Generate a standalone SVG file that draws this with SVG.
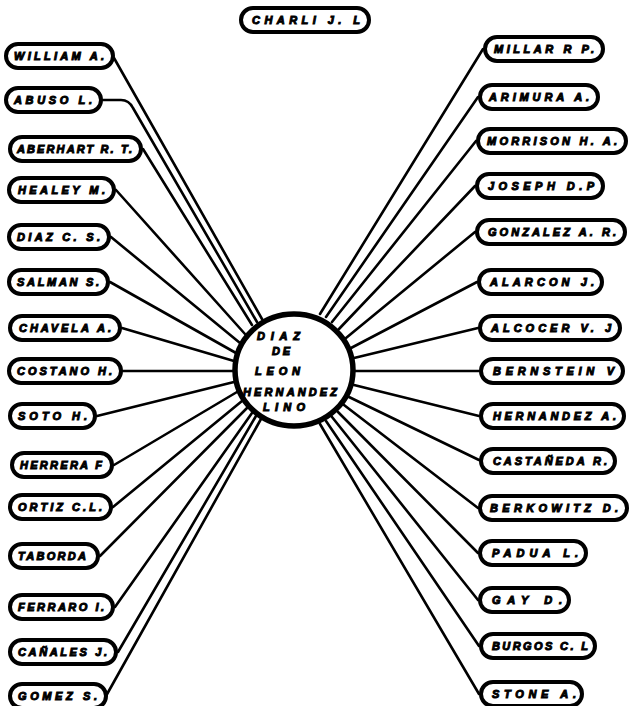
<svg xmlns="http://www.w3.org/2000/svg" width="630" height="706" viewBox="0 0 630 706">
<style>
.pill{fill:#fff;stroke:#000;stroke-width:4}
.lbl{font-family:"Liberation Sans",Arial,sans-serif;font-weight:bold;font-style:italic;font-size:11px;fill:#000;stroke:#000;stroke-width:1}
.conn path{fill:none;stroke:#000;stroke-width:2.6;stroke-linecap:round;stroke-linejoin:round}
.hub{fill:#fff;stroke:#000;stroke-width:5.5}
</style>
<rect width="630" height="706" fill="#fff"/>
<g id="connectors" class="conn">
<path d="M114,58 L262,319"/>
<path d="M103,100 H121 Q129,100 133,108 L257,322"/>
<path d="M143,149 L252,325"/>
<path d="M116,190 L245,334"/>
<path d="M111,237 L240,343"/>
<path d="M110,282 L236,353"/>
<path d="M122,328 L234,361"/>
<path d="M123,371 L233,371"/>
<path d="M97,416 L234,382"/>
<path d="M114,465 L237,392"/>
<path d="M113,507 L242,401"/>
<path d="M100,556 L247,408"/>
<path d="M115,607 L252,413"/>
<path d="M118,652 L256,416"/>
<path d="M106,696 L261,419"/>
<path d="M483,49 L320,314"/>
<path d="M478,97 L326,317"/>
<path d="M476,141 L332,322"/>
<path d="M475,186 L339,329"/>
<path d="M475,232 L346,338"/>
<path d="M477,282 L351,348"/>
<path d="M478,328 L354,358"/>
<path d="M479,371 L355,371"/>
<path d="M479,416 L354,385"/>
<path d="M479,460 L349,397"/>
<path d="M478,508 L344,405"/>
<path d="M478,553 L338,412"/>
<path d="M478,600 L332,417"/>
<path d="M479,646 L326,421"/>
<path d="M479,694 L320,424"/>
</g>
<g id="center">
<ellipse class="hub" cx="294" cy="370" rx="59" ry="56"/>
<text class="lbl" x="257" y="340" textLength="43" lengthAdjust="spacing">DIAZ</text>
<text class="lbl" x="272" y="355" textLength="18" lengthAdjust="spacing">DE</text>
<text class="lbl" x="255" y="375" textLength="45" lengthAdjust="spacing">LEON</text>
<text class="lbl" x="243" y="396" textLength="94" lengthAdjust="spacing">HERNANDEZ</text>
<text class="lbl" x="263" y="411" textLength="42" lengthAdjust="spacing">LINO</text>
</g>
<g id="n-charli"><rect class="pill" x="241" y="8" width="128" height="24" rx="12"/><text class="lbl" x="252" y="24" textLength="108" lengthAdjust="spacing">CHARLI  J. L</text></g>
<g id="n-l1"><rect class="pill" x="6" y="44" width="107" height="24" rx="12"/><text class="lbl" x="14" y="60" textLength="90" lengthAdjust="spacing">WILLIAM A.</text></g>
<g id="n-l2"><rect class="pill" x="6" y="88" width="95" height="24" rx="12"/><text class="lbl" x="14" y="104" textLength="78" lengthAdjust="spacing">ABUSO L.</text></g>
<g id="n-l3"><rect class="pill" x="10" y="137" width="131" height="24" rx="12"/><text class="lbl" x="17" y="153" textLength="115" lengthAdjust="spacing">ABERHART R. T.</text></g>
<g id="n-l4"><rect class="pill" x="9" y="178" width="105" height="24" rx="12"/><text class="lbl" x="18" y="194" textLength="87" lengthAdjust="spacing">HEALEY M.</text></g>
<g id="n-l5"><rect class="pill" x="9" y="225" width="100" height="24" rx="12"/><text class="lbl" x="17" y="241" textLength="83" lengthAdjust="spacing">DIAZ C. S.</text></g>
<g id="n-l6"><rect class="pill" x="9" y="270" width="99" height="24" rx="12"/><text class="lbl" x="17" y="286" textLength="82" lengthAdjust="spacing">SALMAN S.</text></g>
<g id="n-l7"><rect class="pill" x="10" y="316" width="110" height="24" rx="12"/><text class="lbl" x="19" y="332" textLength="92" lengthAdjust="spacing">CHAVELA A.</text></g>
<g id="n-l8"><rect class="pill" x="9" y="359" width="112" height="24" rx="12"/><text class="lbl" x="17" y="375" textLength="95" lengthAdjust="spacing">COSTANO H.</text></g>
<g id="n-l9"><rect class="pill" x="10" y="404" width="85" height="24" rx="12"/><text class="lbl" x="18" y="420" textLength="69" lengthAdjust="spacing">SOTO H.</text></g>
<g id="n-l10"><rect class="pill" x="12" y="453" width="100" height="24" rx="12"/><text class="lbl" x="20" y="469" textLength="82" lengthAdjust="spacing">HERRERA F</text></g>
<g id="n-l11"><rect class="pill" x="10" y="495" width="101" height="24" rx="12"/><text class="lbl" x="18" y="511" textLength="84" lengthAdjust="spacing">ORTIZ C.L.</text></g>
<g id="n-l12"><rect class="pill" x="10" y="544" width="88" height="24" rx="12"/><text class="lbl" x="18" y="560" textLength="68" lengthAdjust="spacing">TABORDA</text></g>
<g id="n-l13"><rect class="pill" x="10" y="595" width="103" height="24" rx="12"/><text class="lbl" x="18" y="611" textLength="86" lengthAdjust="spacing">FERRARO I.</text></g>
<g id="n-l14"><rect class="pill" x="10" y="640" width="106" height="24" rx="12"/><text class="lbl" x="18" y="656" textLength="89" lengthAdjust="spacing">CAÑALES J.</text></g>
<g id="n-l15"><rect class="pill" x="10" y="684" width="96" height="24" rx="12"/><text class="lbl" x="18" y="700" textLength="79" lengthAdjust="spacing">GOMEZ S.</text></g>
<g id="n-r1"><rect class="pill" x="485" y="37" width="118" height="24" rx="12"/><text class="lbl" x="494" y="53" textLength="100" lengthAdjust="spacing">MILLAR R P.</text></g>
<g id="n-r2"><rect class="pill" x="480" y="85" width="118" height="24" rx="12"/><text class="lbl" x="489" y="101" textLength="100" lengthAdjust="spacing">ARIMURA A.</text></g>
<g id="n-r3"><rect class="pill" x="478" y="129" width="148" height="24" rx="12"/><text class="lbl" x="487" y="145" textLength="130" lengthAdjust="spacing">MORRISON H. A.</text></g>
<g id="n-r4"><rect class="pill" x="477" y="174" width="126" height="24" rx="12"/><text class="lbl" x="488" y="190" textLength="106" lengthAdjust="spacing">JOSEPH D.P</text></g>
<g id="n-r5"><rect class="pill" x="477" y="220" width="148" height="24" rx="12"/><text class="lbl" x="488" y="236" textLength="128" lengthAdjust="spacing">GONZALEZ A. R.</text></g>
<g id="n-r6"><rect class="pill" x="479" y="270" width="123" height="24" rx="12"/><text class="lbl" x="490" y="286" textLength="104" lengthAdjust="spacing">ALARCON J.</text></g>
<g id="n-r7"><rect class="pill" x="480" y="316" width="140" height="24" rx="12"/><text class="lbl" x="491" y="332" textLength="120" lengthAdjust="spacing">ALCOCER V. J</text></g>
<g id="n-r8"><rect class="pill" x="481" y="359" width="142" height="24" rx="12"/><text class="lbl" x="493" y="375" textLength="121" lengthAdjust="spacing">BERNSTEIN  V</text></g>
<g id="n-r9"><rect class="pill" x="481" y="404" width="143" height="24" rx="12"/><text class="lbl" x="493" y="420" textLength="123" lengthAdjust="spacing">HERNANDEZ A.</text></g>
<g id="n-r10"><rect class="pill" x="481" y="449" width="134" height="24" rx="12"/><text class="lbl" x="493" y="465" textLength="114" lengthAdjust="spacing">CASTAÑEDA R.</text></g>
<g id="n-r11"><rect class="pill" x="480" y="496" width="147" height="24" rx="12"/><text class="lbl" x="490" y="512" textLength="128" lengthAdjust="spacing">BERKOWITZ D.</text></g>
<g id="n-r12"><rect class="pill" x="480" y="541" width="106" height="24" rx="12"/><text class="lbl" x="492" y="557" textLength="86" lengthAdjust="spacing">PADUA L.</text></g>
<g id="n-r13"><rect class="pill" x="480" y="588" width="89" height="24" rx="12"/><text class="lbl" x="492" y="604" textLength="70" lengthAdjust="spacing">GAY D.</text></g>
<g id="n-r14"><rect class="pill" x="481" y="634" width="114" height="24" rx="12"/><text class="lbl" x="492" y="650" textLength="96" lengthAdjust="spacing">BURGOS C. L</text></g>
<g id="n-r15"><rect class="pill" x="481" y="682" width="101" height="24" rx="12"/><text class="lbl" x="492" y="698" textLength="84" lengthAdjust="spacing">STONE A.</text></g>
</svg>
